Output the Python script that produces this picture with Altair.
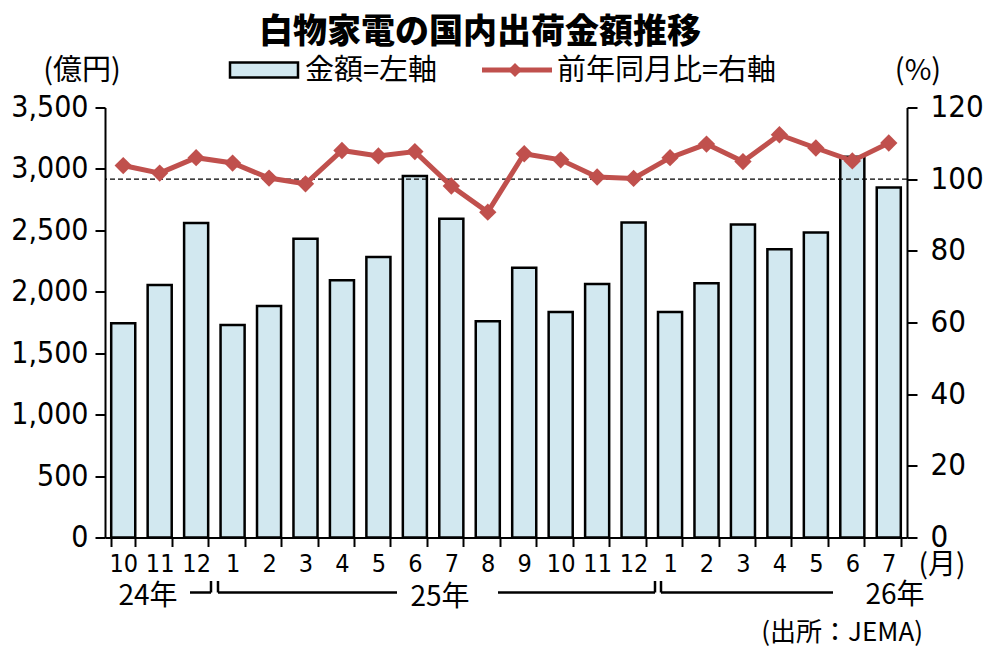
import altair as alt
import pandas as pd

# ---------------- data ----------------
years = ["24", "24", "24"] + ["25"] * 12 + ["26"] * 7
months = ["10", "11", "12", "1", "2", "3", "4", "5", "6", "7", "8", "9", "10", "11", "12",
          "1", "2", "3", "4", "5", "6", "7"]
amounts = [1744, 2056, 2559, 1730, 1885, 2431, 2094, 2284, 2942, 2594, 1760, 2195,
           1836, 2064, 2564, 1836, 2070, 2547, 2347, 2482, 3100, 2849]
yoy = [103.8, 101.7, 106.0, 104.5, 100.3, 98.7, 108.0, 106.5, 107.7, 98.1, 90.8, 107.1,
       105.4, 100.6, 100.2, 106.0, 109.8, 104.9, 112.4, 108.7, 105.1, 110.1]
left_ticks = [0, 500, 1000, 1500, 2000, 2500, 3000, 3500]
right_ticks = [0, 20, 40, 60, 80, 100, 120]
reference_pct = 100

title_text = "白物家電の国内出荷金額推移"
legend_bar = "金額=左軸"
legend_line = "前年同月比=右軸"
unit_left = "(億円)"
unit_right = "(%)"
unit_month = "(月)"
year_labels = ["24年", "25年", "26年"]
source_text = "(出所：JEMA)"

periods = [f"{y}/{m}" for y, m in zip(years, months)]
df = pd.DataFrame({"period": periods, "month": months, "amount": amounts, "yoy": yoy})

# ---------------- style ----------------
BAR_FILL = "#D2E8F0"
RED = "#C0504D"
NUM_FONT = "DejaVu Sans Condensed, DejaVu Sans"
JP_FONT = "Noto Sans CJK JP"
W, H = 802, 430

x_enc = alt.X(
    "period:N", sort=periods, title="",
    scale=alt.Scale(paddingInner=0.34, paddingOuter=0.17),
    axis=alt.Axis(
        labelExpr="split(datum.value, '/')[1]", labelAngle=0,
        labelFont=NUM_FONT, labelFontSize=25, labelColor="black",
        labelPadding=5, tickBand="extent", tickSize=9, tickWidth=2,
        tickColor="black", domainColor="black", domainWidth=2, grid=False,
    ),
)

bars = alt.Chart(df).mark_bar(
    fill=BAR_FILL, stroke="black", strokeWidth=2.5
).encode(
    x=x_enc,
    y=alt.Y(
        "amount:Q", title="",
        scale=alt.Scale(domain=[0, 3500], nice=False, zero=True),
        axis=alt.Axis(
            orient="left", values=left_ticks, format=",.0f", labelFont=NUM_FONT,
            labelFontSize=30, labelColor="black", labelPadding=7, tickSize=10,
            tickWidth=2, tickColor="black", domainColor="black", domainWidth=2,
            grid=False,
        ),
    ),
)

y_right = alt.Y(
    "yoy:Q", title="",
    scale=alt.Scale(domain=[0, 120], nice=False, zero=True),
    axis=alt.Axis(
        orient="right", values=right_ticks, format=".0f", labelFont=NUM_FONT,
        labelFontSize=31, labelColor="black", labelPadding=13, tickSize=10,
        tickWidth=2, tickColor="black", domainColor="black", domainWidth=2,
        grid=False,
    ),
)

ref_rule = alt.Chart(pd.DataFrame({"yoy": [reference_pct]})).mark_rule(
    color="black", strokeWidth=1.3, strokeDash=[5, 3]
).encode(y=y_right)

line = alt.Chart(df).mark_line(color=RED, strokeWidth=5).encode(x=x_enc, y=y_right)
points = alt.Chart(df).mark_point(
    shape="diamond", size=300, filled=True, color=RED, opacity=1
).encode(x=x_enc, y=y_right)

right_group = alt.layer(ref_rule, line, points)


def txt(s, px, py, size, align="center", weight="normal", font=JP_FONT):
    return alt.Chart(pd.DataFrame({"t": [s]})).mark_text(
        align=align, baseline="middle", font=font, fontSize=size,
        fontWeight=weight, color="black",
    ).encode(text="t:N", x=alt.value(px), y=alt.value(py))


def hrule(x1, x2, y, color="black", width=2.5):
    return alt.Chart(pd.DataFrame({"a": [0]})).mark_rule(
        color=color, strokeWidth=width
    ).encode(x=alt.value(x1), x2=alt.value(x2), y=alt.value(y))


def vrule(x, y1, y2):
    return alt.Chart(pd.DataFrame({"a": [0]})).mark_rule(
        color="black", strokeWidth=2.5
    ).encode(x=alt.value(x), y=alt.value(y1), y2=alt.value(y2))


annotations = [
    txt(title_text, 375, -75, 34, weight=900),
    txt(unit_left, -23, -37, 29),
    txt(unit_right, 813, -37, 29),
    # legend
    alt.Chart(pd.DataFrame({"a": [0]})).mark_rect(
        fill=BAR_FILL, stroke="black", strokeWidth=2.5
    ).encode(x=alt.value(125), x2=alt.value(193), y=alt.value(-45), y2=alt.value(-30)),
    txt(legend_bar, 200, -37, 29, align="left"),
    hrule(377, 447, -37.5, color=RED, width=5),
    alt.Chart(pd.DataFrame({"a": [0]})).mark_point(
        shape="diamond", size=200, filled=True, color=RED, opacity=1
    ).encode(x=alt.value(410), y=alt.value(-37.5)),
    txt(legend_line, 452, -37, 29, align="left"),
    # bottom labels
    txt(unit_month, 837, 458, 28),
    txt(year_labels[0], 43, 489, 28),
    txt(year_labels[1], 335, 490, 28),
    txt(year_labels[2], 790, 488, 28),
    txt(source_text, 818, 525, 26, align="right"),
    # brackets
    hrule(85, 106, 485), vrule(106, 473.5, 485),
    vrule(113, 473.5, 485), hrule(113, 292, 485),
    hrule(393, 550, 485), vrule(550, 473.5, 485),
    vrule(556, 473.5, 485), hrule(556, 728, 485),
]

chart = alt.layer(bars, right_group, *annotations).resolve_scale(
    y="independent"
).properties(
    width=W, height=H,
    autosize=alt.AutoSizeParams(type="none"),
    padding={"left": 97, "top": 99.5, "right": 85, "bottom": 109},
).configure_view(stroke=None)

chart.save("out.html", embed_options={"renderer": "svg", "actions": False})
